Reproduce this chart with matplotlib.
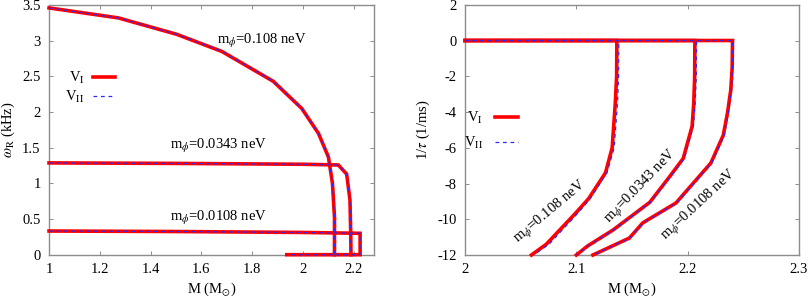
import matplotlib
matplotlib.use("Agg")
import matplotlib.pyplot as plt
from matplotlib.lines import Line2D
from matplotlib.ticker import FuncFormatter

plt.rcParams['font.family'] = 'serif'
plt.rcParams['font.serif'] = ['Liberation Serif', 'DejaVu Serif']
plt.rcParams['mathtext.fontset'] = 'stix'
plt.rcParams['font.size'] = 10.5

# ---- left panel: omega_R vs M ----
w108_M = [1.0, 1.273, 1.503, 1.681, 1.884, 1.996, 2.062, 2.101, 2.117, 2.125, 2.125]
w108_w = [3.46, 3.32, 3.09, 2.85, 2.43, 2.05, 1.70, 1.37, 1.00, 0.53, 0.0]

w0343_M = [1.0, 1.5, 2.0, 2.140, 2.173, 2.186, 2.189, 2.190]
w0343_w = [1.287, 1.280, 1.268, 1.258, 1.13, 0.77, 0.30, 0.0]

w0108_M = [1.0, 1.5, 2.0, 2.226, 2.226, 1.937]
w0108_w = [0.332, 0.325, 0.312, 0.300, 0.0, 0.0]

# ---- right panel: 1/tau vs M ----
t108_M_I = [2.0, 2.1364, 2.1362, 2.1350, 2.1322, 2.1262, 2.1110, 2.0995, 2.0730, 2.0597]
t108_M_II = [2.0, 2.1382, 2.1380, 2.1370, 2.1340, 2.1275, 2.1125, 2.1015, 2.0755, 2.0615]
t108_t = [0, 0, -2, -3.5, -6.0, -7.4, -8.85, -9.65, -11.4, -12]

t0343_M_I = [2.0, 2.2065, 2.2063, 2.2055, 2.2040, 2.1960, 2.1840, 2.1660, 2.1330, 2.1100, 2.1000]
t0343_M_II = [2.0, 2.2080, 2.2078, 2.2068, 2.2052, 2.1970, 2.1848, 2.1665, 2.1333, 2.1102, 2.1002]
t0343_t = [0, 0, -2, -3.5, -4.8, -6.6, -7.6, -9.05, -10.6, -11.5, -12]

t0108_M_I = [2.0, 2.2403, 2.2400, 2.2388, 2.2358, 2.2320, 2.2209, 2.1895, 2.1597, 2.1477, 2.1149]
t0108_M_II = [2.0, 2.2405, 2.2404, 2.2394, 2.2366, 2.2330, 2.2217, 2.1900, 2.1600, 2.1480, 2.1151]
t0108_t = [0, 0, -1.5, -2.74, -4.05, -5.3, -6.85, -9.09, -10.2, -11.05, -12]

RED = '#ff0000'
BLUE = '#2a2aff'
SPINE = '#8c8c8c'

fig = plt.figure(figsize=(8.09, 2.98), dpi=100)
axL = fig.add_axes([0.0606, 0.1453, 0.4021, 0.8377])
axR = fig.add_axes([0.5748, 0.1443, 0.4128, 0.8397])

fmt = FuncFormatter(lambda v, p: '%g' % round(v, 6))


def style(ax):
    for s in ax.spines.values():
        s.set_color(SPINE)
        s.set_linewidth(1.0)
    ax.tick_params(direction='in', length=3, width=0.7, color=SPINE,
                   top=True, right=True, labelsize=10.5, pad=6)
    ax.xaxis.set_major_formatter(fmt)
    ax.yaxis.set_major_formatter(fmt)


def pair(ax, xs_I, xs_II, ys):
    ax.plot(xs_I, ys, color=RED, lw=2.6, solid_joinstyle='miter', clip_on=False, zorder=3)
    ax.plot(xs_II, ys, color=BLUE, lw=0.9, ls=(0, (3, 3)), clip_on=False, zorder=4)


# left
pair(axL, w108_M, w108_M, w108_w)
pair(axL, w0343_M, w0343_M, w0343_w)
pair(axL, w0108_M, w0108_M, w0108_w)
axL.set_xlim(1, 2.282)
axL.set_ylim(0, 3.5)
axL.set_xticks([1, 1.2, 1.4, 1.6, 1.8, 2, 2.2])
axL.set_yticks([0, 0.5, 1, 1.5, 2, 2.5, 3, 3.5])
style(axL)
axL.set_xlabel(r'M (M$_{\odot}$)', labelpad=3)
axL.set_ylabel(r'$\omega_{\rm R}$ (kHz)', labelpad=4)
axL.text(1.84, 3.0, r'm$_{\phi}$=0.108 neV', ha='center', va='center')
axL.text(1.667, 1.52, r'm$_{\phi}$=0.0343 neV', ha='center', va='center')
axL.text(1.667, 0.51, r'm$_{\phi}$=0.0108 neV', ha='center', va='center')

# right
pair(axR, t108_M_I, t108_M_II, t108_t)
pair(axR, t0343_M_I, t0343_M_II, t0343_t)
pair(axR, t0108_M_I, t0108_M_II, t0108_t)
axR.set_xlim(2, 2.299)
axR.set_ylim(-12, 2)
axR.set_xticks([2, 2.1, 2.2, 2.3])
axR.set_yticks([2, 0, -2, -4, -6, -8, -10, -12])
style(axR)
axR.set_xlabel(r'M (M$_{\odot}$)', labelpad=3)
axR.set_ylabel(r'1/$\tau$ (1/ms)', labelpad=4)
axR.text(2.0767, -9.6, r'm$_{\phi}$=0.108 neV', ha='center', va='center', rotation=40)
axR.text(2.1582, -8.2, r'm$_{\phi}$=0.0343 neV', ha='center', va='center', rotation=46)
axR.text(2.2104, -9.2, r'm$_{\phi}$=0.0108 neV', ha='center', va='center', rotation=43)

handles = [Line2D([], [], color=RED, lw=2.6),
           Line2D([], [], color=BLUE, lw=0.9, ls=(0, (3, 3)))]
labels = [r'V$_{\rm I}$', r'V$_{\rm II}$']
axL.legend(handles, labels, loc='upper right', bbox_to_anchor=(0.203, 0.74),
           markerfirst=False, frameon=False, borderpad=0, borderaxespad=0,
           handlelength=1.5, handletextpad=0.6, labelspacing=0.2, fontsize=10.5)
axR.legend(handles, labels, loc='upper right', bbox_to_anchor=(0.159, 0.58),
           markerfirst=False, frameon=False, borderpad=0, borderaxespad=0,
           handlelength=1.6, handletextpad=0.8, labelspacing=0.6, fontsize=10.5)

fig.savefig('out.png', dpi=100)
